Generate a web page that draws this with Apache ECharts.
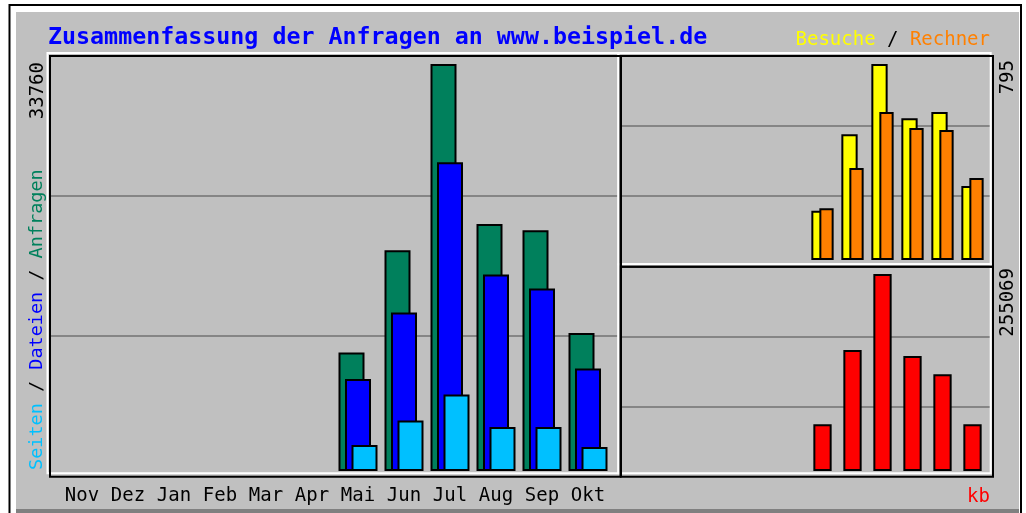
<!DOCTYPE html>
<html>
<head>
<meta charset="utf-8">
<script src="https://cdn.jsdelivr.net/npm/echarts@6/dist/echarts.min.js"></script>
<style>
  html, body { margin: 0; padding: 0; background: #fff; }
  #summary { width: 1026px; height: 513px; }
</style>
</head>
<body>
<div id="summary"></div>
<script>
// Monate, aelteste zuerst
const months = ['Nov', 'Dez', 'Jan', 'Feb', 'Mar', 'Apr', 'Mai', 'Jun', 'Jul', 'Aug', 'Sep', 'Okt']
const anfragen = [null, null, null, null, null, null, 9830, 18320, 33760, 20480, 19980, 11450]
const dateien = [null, null, null, null, null, null, 7640, 13150, 25600, 16300, 15140, 8500]
const seiten = [null, null, null, null, null, null, 2160, 4180, 6340, 3650, 3650, 1990]
const besuche = [null, null, null, null, null, null, 200, 510, 795, 575, 600, 300]
const rechner = [null, null, null, null, null, null, 210, 373, 600, 535, 527, 333]
const kbytes = [null, null, null, null, null, null, 60470, 156670, 255069, 148900, 125200, 60470]

const maxOf = arr => Math.max.apply(null, arr.filter(v => v != null))

const MONO = '"DejaVu Sans Mono", "Liberation Mono", monospace'
const shadow = { textShadowColor: '#3a3a3a', textShadowOffsetX: 1, textShadowOffsetY: 1 }

const chart = echarts.init(document.getElementById('summary'))

// hintergrund-grids nur fuer die grauen linien, daten-grids fuer die balken
function bgAxis (idx) {
  return {
    type: 'value', gridIndex: idx, min: 0, max: 3, interval: 1,
    axisLine: { show: false }, axisTick: { show: false }, axisLabel: { show: false },
    splitLine: { show: true, showMinLine: false, showMaxLine: false, lineStyle: { color: '#858585', width: 2 } }
  }
}
function hiddenX (idx) {
  return { type: 'value', gridIndex: idx, min: 0, max: 1, show: false }
}
function monthAxis (idx, labels) {
  return {
    type: 'category', gridIndex: idx, data: months,
    axisLine: { show: false }, axisTick: { show: false },
    axisLabel: labels
      ? { show: true, margin: 16, color: '#000', fontFamily: MONO, fontSize: 19 }
      : { show: false },
    splitLine: { show: false }
  }
}
function valueAxis (idx, max) {
  return { type: 'value', gridIndex: idx, min: 0, max: max, show: false }
}

const barStyle = color => ({ color: color, borderColor: '#000', borderWidth: 2 })

const option = {
  animation: false,
  backgroundColor: '#fff',
  title: {
    text: 'Zusammenfassung der Anfragen an www.beispiel.de',
    left: 48, top: 26, padding: 0,
    textStyle: { color: '#0000ff', fontFamily: MONO, fontWeight: 'bold', fontSize: 23.3 }
  },
  grid: [
    { left: 50, top: 56, width: 568, height: 420 },
    { left: 59, top: 56, width: 552, height: 415 },
    { left: 621, top: 56, width: 370, height: 210 },
    { left: 627.5, top: 55, width: 360, height: 205 },
    { left: 621, top: 267, width: 370, height: 210 },
    { left: 627.5, top: 266, width: 360, height: 205 }
  ],
  xAxis: [
    hiddenX(0), monthAxis(1, true),
    hiddenX(2), monthAxis(3, false),
    hiddenX(4), monthAxis(5, false)
  ],
  yAxis: [
    bgAxis(0), valueAxis(1, maxOf(anfragen) * 415 / 407),
    bgAxis(2), valueAxis(3, maxOf(besuche) * 205 / 196),
    bgAxis(4), valueAxis(5, maxOf(kbytes) * 205 / 197)
  ],
  series: [
    { name: 'Anfragen', type: 'bar', xAxisIndex: 1, yAxisIndex: 1, data: anfragen,
      barWidth: 26, barGap: '-75%', itemStyle: barStyle('#00805c') },
    { name: 'Dateien', type: 'bar', xAxisIndex: 1, yAxisIndex: 1, data: dateien,
      barWidth: 26, barGap: '-75%', itemStyle: barStyle('#0000ff') },
    { name: 'Seiten', type: 'bar', xAxisIndex: 1, yAxisIndex: 1, data: seiten,
      barWidth: 26, barGap: '-75%', itemStyle: barStyle('#00c0ff') },
    { name: 'Besuche', type: 'bar', xAxisIndex: 3, yAxisIndex: 3, data: besuche,
      barWidth: 16.3, barGap: '-50.9%', itemStyle: barStyle('#ffff00') },
    { name: 'Rechner', type: 'bar', xAxisIndex: 3, yAxisIndex: 3, data: rechner,
      barWidth: 14.3, barGap: '-50.9%', itemStyle: barStyle('#ff8000') },
    { name: 'kb', type: 'bar', xAxisIndex: 5, yAxisIndex: 5, data: kbytes,
      barWidth: 18.3, itemStyle: barStyle('#ff0000') }
  ],
  graphic: [
    // rahmen des bildes
    { type: 'rect', z: -20, shape: { x: 9.5, y: 5, width: 1011.5, height: 530 },
      style: { fill: '#fff', stroke: '#000', lineWidth: 2 } },
    { type: 'rect', z: -19, shape: { x: 16, y: 12, width: 1003, height: 497 },
      style: { fill: '#c0c0c0' } },
    { type: 'rect', z: -19, shape: { x: 16, y: 509, width: 1003, height: 4 },
      style: { fill: '#808080' } },
    // weisse kanten der panels
    { type: 'rect', z: 50, shape: { x: 47.5, y: 53, width: 570.8, height: 420.3 },
      style: { fill: null, stroke: '#fff', lineWidth: 2 } },
    { type: 'rect', z: 50, shape: { x: 618.5, y: 53, width: 372.2, height: 211.3 },
      style: { fill: null, stroke: '#fff', lineWidth: 2 } },
    { type: 'rect', z: 50, shape: { x: 618.5, y: 264.3, width: 372.2, height: 209 },
      style: { fill: null, stroke: '#fff', lineWidth: 2 } },
    // schwarze kanten
    { type: 'rect', z: 51, shape: { x: 50, y: 56, width: 570.5, height: 420.7 },
      style: { fill: null, stroke: '#000', lineWidth: 2 } },
    { type: 'rect', z: 51, shape: { x: 621, y: 56, width: 372, height: 210.7 },
      style: { fill: null, stroke: '#000', lineWidth: 2 } },
    { type: 'rect', z: 51, shape: { x: 621, y: 266.7, width: 372, height: 210 },
      style: { fill: null, stroke: '#000', lineWidth: 2 } },
    // beschriftungen
    { type: 'text', z: 60, x: 990, y: 40,
      style: Object.assign({
        text: '{b|Besuche} / {r|Rechner}', fill: '#000',
        font: '19px ' + MONO, align: 'right', verticalAlign: 'middle',
        rich: { b: { fill: '#ffff00' }, r: { fill: '#ff8000' } }
      }, shadow) },
    { type: 'text', z: 60, x: 37, y: 470, rotation: Math.PI / 2,
      style: Object.assign({
        text: '{s|Seiten} / {d|Dateien} / {a|Anfragen}', fill: '#000',
        font: '18.5px ' + MONO, align: 'left', verticalAlign: 'middle',
        rich: { s: { fill: '#00c0ff' }, d: { fill: '#0000ff' }, a: { fill: '#00805c' } }
      }, shadow) },
    { type: 'text', z: 60, x: 38, y: 62, rotation: Math.PI / 2,
      style: { text: String(maxOf(anfragen)), fill: '#000', font: '19px ' + MONO,
        align: 'right', verticalAlign: 'middle' } },
    { type: 'text', z: 60, x: 1008, y: 60, rotation: Math.PI / 2,
      style: { text: String(maxOf(besuche)), fill: '#000', font: '19px ' + MONO,
        align: 'right', verticalAlign: 'middle' } },
    { type: 'text', z: 60, x: 1008, y: 268, rotation: Math.PI / 2,
      style: { text: String(maxOf(kbytes)), fill: '#000', font: '19px ' + MONO,
        align: 'right', verticalAlign: 'middle' } },
    { type: 'text', z: 60, x: 990, y: 497,
      style: Object.assign({ text: 'kb', fill: '#ff0000', font: '19px ' + MONO,
        align: 'right', verticalAlign: 'middle' }, shadow) }
  ]
}

chart.setOption(option)
window.addEventListener('resize', () => chart.resize())
</script>
</body>
</html>
